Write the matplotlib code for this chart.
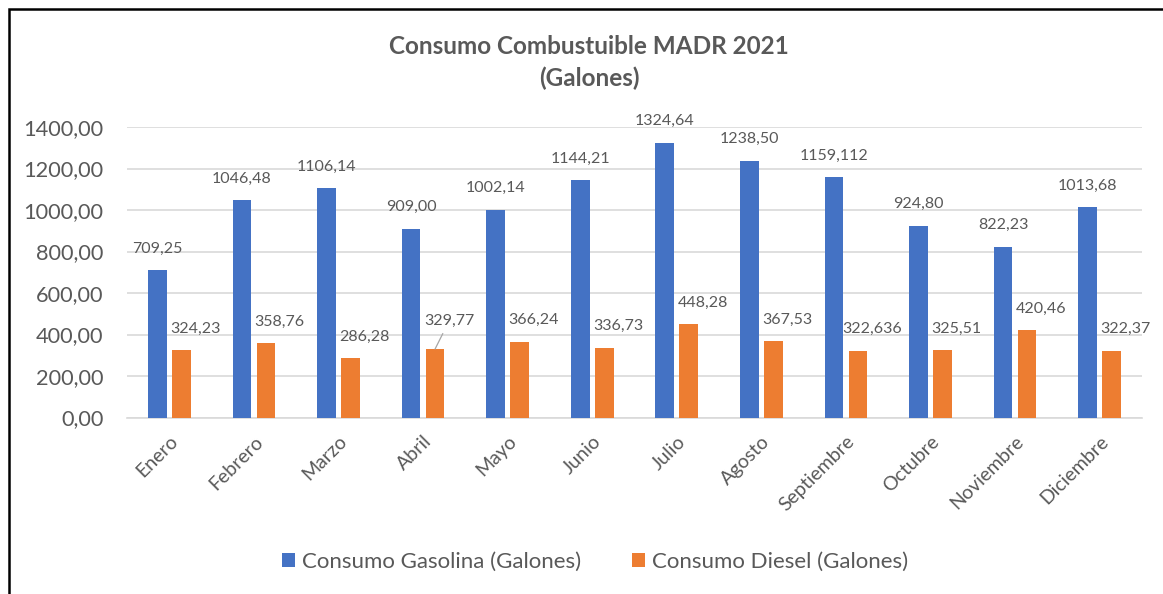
import matplotlib
matplotlib.use("Agg")
import matplotlib.pyplot as plt
import numpy as np
from matplotlib.patches import Rectangle

meses = ["Enero", "Febrero", "Marzo", "Abril", "Mayo", "Junio", "Julio",
         "Agosto", "Septiembre", "Octubre", "Noviembre", "Diciembre"]
gasolina = [709.25, 1046.48, 1106.14, 909.00, 1002.14, 1144.21, 1324.64,
            1238.50, 1159.112, 924.80, 822.23, 1013.68]
diesel = [324.23, 358.76, 286.28, 329.77, 366.24, 336.73, 448.28,
          367.53, 322.636, 325.51, 420.46, 322.37]
y_ticks = [0, 200, 400, 600, 800, 1000, 1200, 1400]

AZUL = "#4472C4"
NARANJA = "#ED7D31"
GRIS_TEXTO = "#595959"
GRIS_REJILLA = "#D9D9D9"

plt.rcParams["font.family"] = ["Lato", "DejaVu Sans"]


def fmt(v):
    s = f"{v:.3f}"
    if s.endswith("0"):
        s = s[:-1]
    return s.replace(".", ",")


fig = plt.figure(figsize=(11.63, 5.94), dpi=100)
ax = fig.add_axes([127 / 1163, 1 - 417.5 / 594, (1142 - 127) / 1163, 290.5 / 594])

x = np.arange(len(meses))
ancho = 0.22
desp = 0.142
ax.bar(x - desp, gasolina, ancho, color=AZUL, label="Consumo Gasolina (Galones)", zorder=3)
ax.bar(x + desp, diesel, ancho, color=NARANJA, label="Consumo Diesel (Galones)", zorder=3)

ax.set_xlim(-0.5, len(meses) - 0.5)
ax.set_ylim(0, 1400)
ax.set_yticks(y_ticks)
ax.set_yticklabels([f"{t},00" for t in y_ticks], fontsize=15.7, color=GRIS_TEXTO)
ax.yaxis.grid(True, color=GRIS_REJILLA, lw=1.2, zorder=0)
ax.set_axisbelow(True)
for s in ["top", "right", "left"]:
    ax.spines[s].set_visible(False)
ax.spines["bottom"].set_color(GRIS_REJILLA)
ax.spines["bottom"].set_linewidth(1.2)
ax.tick_params(axis="both", length=0)
ax.tick_params(axis="y", pad=17)
ax.set_xticks(x)
ax.set_xticklabels(meses, rotation=45, ha="right", rotation_mode="anchor",
                   fontsize=14, color=GRIS_TEXTO)
ax.tick_params(axis="x", pad=11)

# etiquetas de valor
for i, v in enumerate(gasolina):
    ax.annotate(fmt(v), (x[i] - desp, v), xytext=(0, 15.5), textcoords="offset points",
                ha="center", va="center", fontsize=11.5, color=GRIS_TEXTO)
for i, v in enumerate(diesel):
    if meses[i] == "Abril":
        ax.annotate(fmt(v), (x[i] + desp, v), xytext=(10, 20), textcoords="offset points",
                    ha="center", va="center", fontsize=11.5, color=GRIS_TEXTO,
                    arrowprops=dict(arrowstyle="-", color="#A6A6A6", lw=0.9,
                                    shrinkA=2, shrinkB=0))
    else:
        ax.annotate(fmt(v), (x[i] + desp, v), xytext=(10, 15.5), textcoords="offset points",
                    ha="center", va="center", fontsize=11.5, color=GRIS_TEXTO)

fig.text(589 / 1163, 1 - 47 / 594, "Consumo Combustuible MADR 2021", ha="center", va="center",
         fontsize=17.5, fontweight="bold", color=GRIS_TEXTO)
fig.text(589 / 1163, 1 - 78 / 594, "(Galones)", ha="center", va="center",
         fontsize=17.5, fontweight="bold", color=GRIS_TEXTO)

handles, labels = ax.get_legend_handles_labels()
fig.legend(handles, labels, loc="center", bbox_to_anchor=(595 / 1163, 1 - 562 / 594),
           ncol=2, frameon=False, fontsize=16, labelcolor=GRIS_TEXTO,
           handlelength=0.6, handleheight=0.6, handletextpad=0.3, columnspacing=2.3)

# marco exterior
fig.add_artist(Rectangle((8.5 / 1163, -0.1), 1.2, 1 - 9.5 / 594 + 0.1, transform=fig.transFigure,
                         fill=False, edgecolor="black", lw=1.8))

fig.savefig("out.png", dpi=100)
